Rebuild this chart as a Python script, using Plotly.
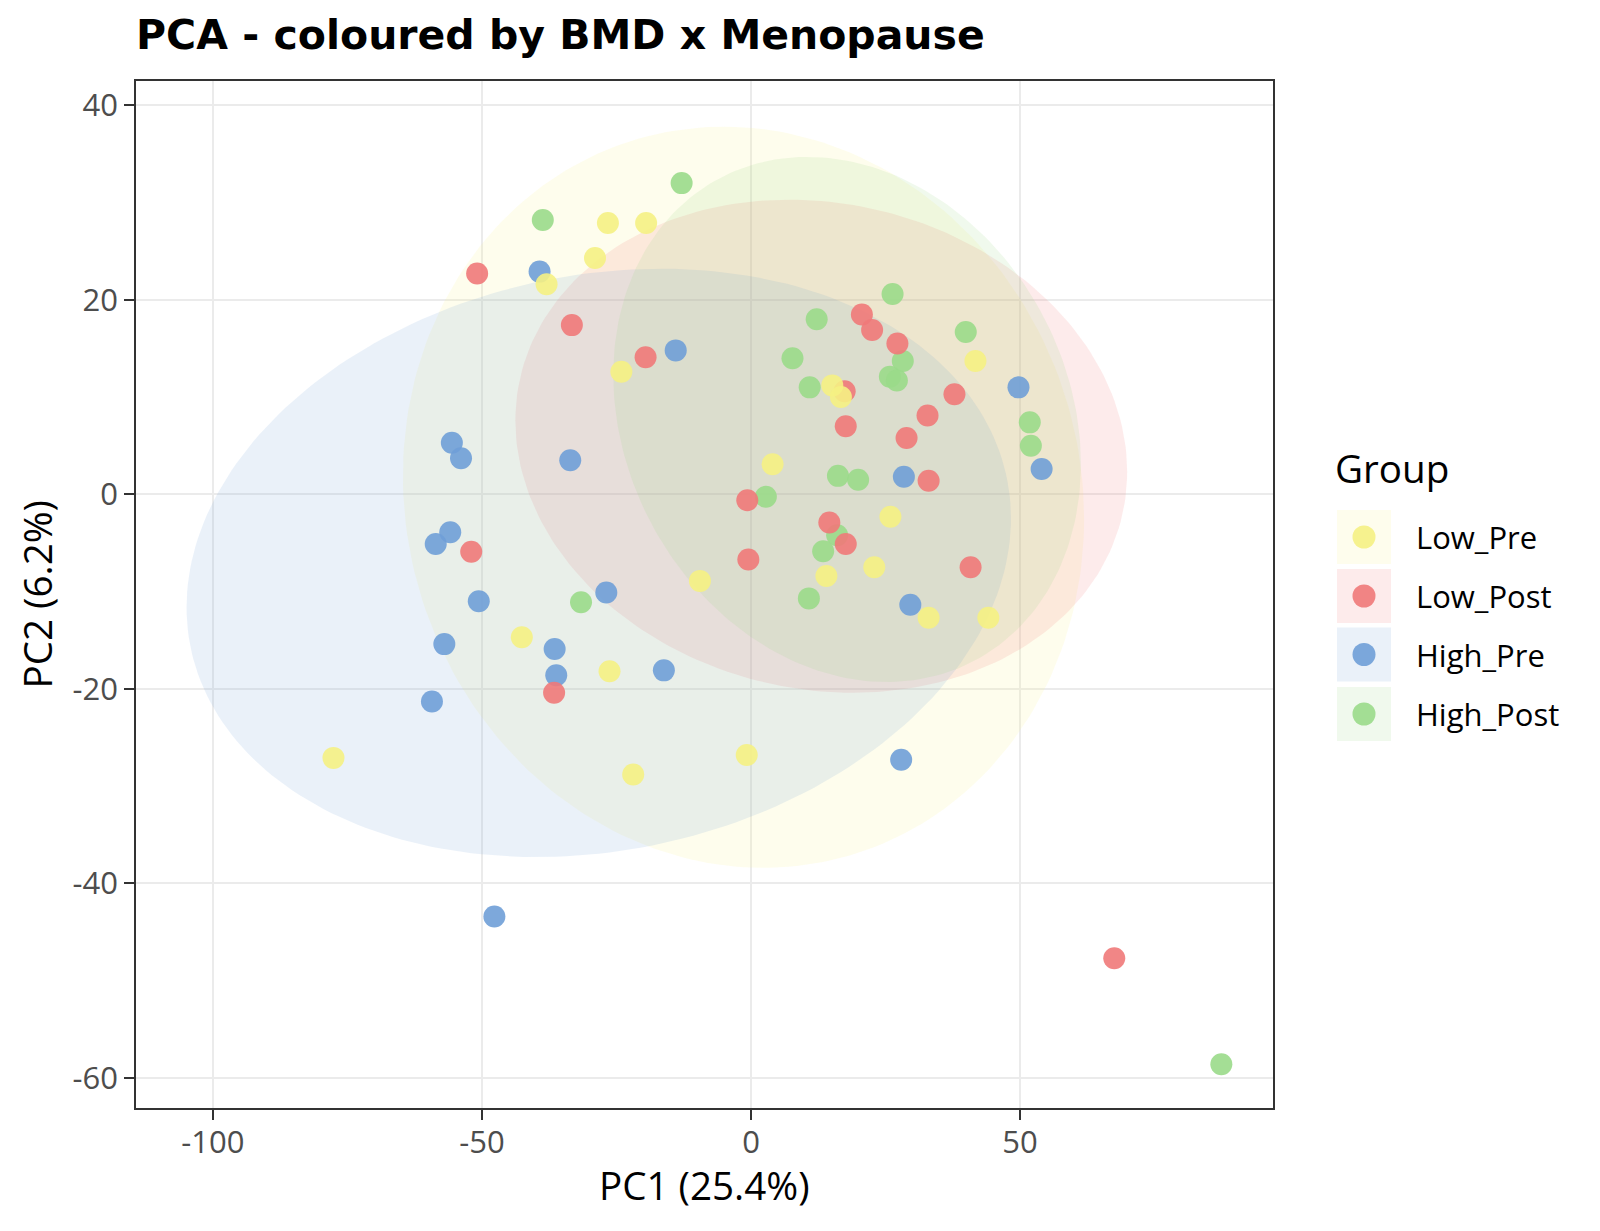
import numpy as np
import plotly.graph_objects as go

# ---------------- data ----------------
groups = ["Low_Pre", "Low_Post", "High_Pre", "High_Post"]

low_pre_pc1 = [-77.6, -26.6, -19.5, -29.0, -38.0, -24.1, 15.1, 16.7, 4.0, 41.7,
               25.9, 14.0, 22.9, -9.5, 33.0, 44.1, -42.6, -26.3, -0.8, -21.9]
low_pre_pc2 = [-27.1, 27.9, 27.9, 24.3, 21.6, 12.6, 11.2, 10.0, 3.1, 13.7,
               -2.3, -8.4, -7.5, -8.9, -12.7, -12.7, -14.7, -18.2, -26.8, -28.8]

low_post_pc1 = [-50.9, -33.3, -19.6, 20.6, 22.5, 27.2, 17.4, 37.8, 32.8, 17.6,
                28.9, 33.0, -0.7, 14.55, 17.6, 40.8, -0.5, -52.0, -36.6, 67.5]
low_post_pc2 = [22.7, 17.4, 14.1, 18.5, 16.9, 15.5, 10.6, 10.3, 8.1, 7.0,
                5.8, 1.4, -0.6, -2.9, -5.1, -7.5, -6.7, -5.9, -20.4, -47.7]

high_pre_pc1 = [-39.3, -14.0, -55.6, -53.9, -33.6, -55.9, -58.6, -50.6, -26.9, -36.5,
                -36.2, -57.0, -59.3, -16.2, 49.7, 54.0, 28.4, 29.6, 27.9, -47.7]
high_pre_pc2 = [22.9, 14.8, 5.3, 3.7, 3.5, -3.9, -5.1, -11.0, -10.1, -15.9,
                -18.6, -15.4, -21.3, -18.1, 11.0, 2.6, 1.8, -11.35, -27.3, -43.4]

high_post_pc1 = [-12.9, -38.7, 26.3, 12.2, 39.9, 7.7, 28.2, 25.8, 27.1, 10.9,
                 51.8, 52.0, 16.15, 19.9, 2.75, 16.0, 13.4, -31.6, 10.75, 87.4]
high_post_pc2 = [32.0, 28.2, 20.6, 18.0, 16.7, 14.0, 13.7, 12.1, 11.7, 11.0,
                 7.4, 5.0, 1.9, 1.5, -0.25, -4.2, -5.85, -11.1, -10.7, -58.6]

# 95% ellipse summaries per group (centre, half-extent in PC1/PC2, correlation)
ell_cx = [-1.4, 13.05, -28.3, 17.85]
ell_cy = [-0.3, 4.95, -7.05, 7.7]
ell_hx = [63.3, 56.85, 76.6, 43.45]
ell_hy = [38.1, 25.35, 30.25, 27.0]
ell_rho = [-0.058, -0.104, 0.151, -0.17]

x_ticks = [-100, -50, 0, 50]
y_ticks = [-60, -40, -20, 0, 20, 40]

x_title = "PC1 (25.4%)"
y_title = "PC2 (6.2%)"
title = "PCA - coloured by BMD x Menopause"
legend_title = "Group"

# ---------------- styling ----------------
rgb = {
    "Low_Pre": (245, 241, 131),
    "Low_Post": (239, 121, 121),
    "High_Pre": (111, 158, 215),
    "High_Post": (154, 218, 137),
}
FILL_A = 0.15
PT_A = 0.9


def rgba(c, a):
    return "rgba(%d,%d,%d,%.3f)" % (c[0], c[1], c[2], a)


pts = {
    "Low_Pre": (low_pre_pc1, low_pre_pc2),
    "Low_Post": (low_post_pc1, low_post_pc2),
    "High_Pre": (high_pre_pc1, high_pre_pc2),
    "High_Post": (high_post_pc1, high_post_pc2),
}

fig = go.Figure()

# ellipses
t = np.linspace(0, 2 * np.pi, 241)
for i, g in enumerate(groups):
    hx, hy, r = ell_hx[i], ell_hy[i], ell_rho[i]
    M = np.array([[hx * hx, r * hx * hy], [r * hx * hy, hy * hy]])
    L = np.linalg.cholesky(M)
    circ = np.vstack([np.cos(t), np.sin(t)])
    e = L @ circ
    fig.add_trace(go.Scatter(
        x=ell_cx[i] + e[0], y=ell_cy[i] + e[1], mode="lines",
        line=dict(width=0), fill="toself", fillcolor=rgba(rgb[g], FILL_A),
        hoverinfo="skip", showlegend=False))

# points (drawing order as in the reference)
for g in ["High_Pre", "High_Post", "Low_Post", "Low_Pre"]:
    xs, ys = pts[g]
    fig.add_trace(go.Scatter(
        x=xs, y=ys, mode="markers", name=g, showlegend=False,
        marker=dict(size=22, color=rgba(rgb[g], PT_A), line=dict(width=0))))

# ---------------- layout ----------------
L_M, R_M, T_M, B_M = 136, 327, 81, 123
W, H = 1600, 1231
PW, PH = W - L_M - R_M, H - T_M - B_M


def px2x(px):
    return (px - L_M) / PW


def px2y(py):
    return (H - B_M - py) / PH


tick_font = dict(family="Open Sans", size=31, color="#4D4D4D")
axis_common = dict(
    showgrid=True, gridcolor="#EBEBEB", gridwidth=1.6, zeroline=False,
    showline=True, mirror=True, linecolor="#333333", linewidth=1.5,
    ticks="outside", ticklen=10, tickwidth=1.5, tickcolor="#333333",
    tickfont=tick_font,
)

fig.update_layout(
    width=W, height=H, autosize=False,
    margin=dict(l=L_M, r=R_M, t=T_M, b=B_M, pad=0),
    paper_bgcolor="white", plot_bgcolor="white",
    xaxis=dict(range=[-114.3, 97.0], tickvals=x_ticks,
               ticktext=[str(v) for v in x_ticks], ticklabelstandoff=-4,
               **axis_common),
    yaxis=dict(range=[-63.1, 42.5], tickvals=y_ticks,
               ticktext=[str(v) for v in y_ticks], **axis_common),
    showlegend=False,
)

ann = []
ann.append(dict(text="<b>%s</b>" % title, x=px2x(134), y=px2y(35.5),
                xref="paper", yref="paper", xanchor="left", yanchor="middle",
                showarrow=False, font=dict(family="DejaVu Sans", size=41, color="black")))
ann.append(dict(text=x_title, x=0.5, y=px2y(1185), xref="paper", yref="paper",
                xanchor="center", yanchor="middle", showarrow=False,
                font=dict(family="Open Sans", size=38.6, color="black")))
ann.append(dict(text=y_title, x=px2x(36), y=0.5, xref="paper", yref="paper",
                xanchor="center", yanchor="middle", textangle=-90, showarrow=False,
                font=dict(family="Open Sans", size=38.6, color="black")))
ann.append(dict(text=legend_title, x=px2x(1333), y=px2y(468), xref="paper", yref="paper",
                xanchor="left", yanchor="middle", showarrow=False,
                font=dict(family="Open Sans", size=38.6, color="black")))

shapes = []
key_cy = [537, 596, 654.5, 714]
for i, g in enumerate(groups):
    cy = px2y(key_cy[i])
    cx = px2x(1364)
    shapes.append(dict(type="rect", xref="paper", yref="paper",
                       xsizemode="pixel", ysizemode="pixel",
                       xanchor=cx, yanchor=cy, x0=-27, x1=27, y0=-27, y1=27,
                       fillcolor=rgba(rgb[g], FILL_A), line=dict(width=0)))
    shapes.append(dict(type="circle", xref="paper", yref="paper",
                       xsizemode="pixel", ysizemode="pixel",
                       xanchor=cx, yanchor=cy, x0=-11.5, x1=11.5, y0=-11.5, y1=11.5,
                       fillcolor=rgba(rgb[g], PT_A), line=dict(width=0)))
    ann.append(dict(text=g, x=px2x(1414), y=cy, xref="paper", yref="paper",
                    xanchor="left", yanchor="middle", showarrow=False,
                    font=dict(family="Open Sans", size=31, color="black")))

fig.update_layout(annotations=ann, shapes=shapes)

fig.write_html("out.html")
